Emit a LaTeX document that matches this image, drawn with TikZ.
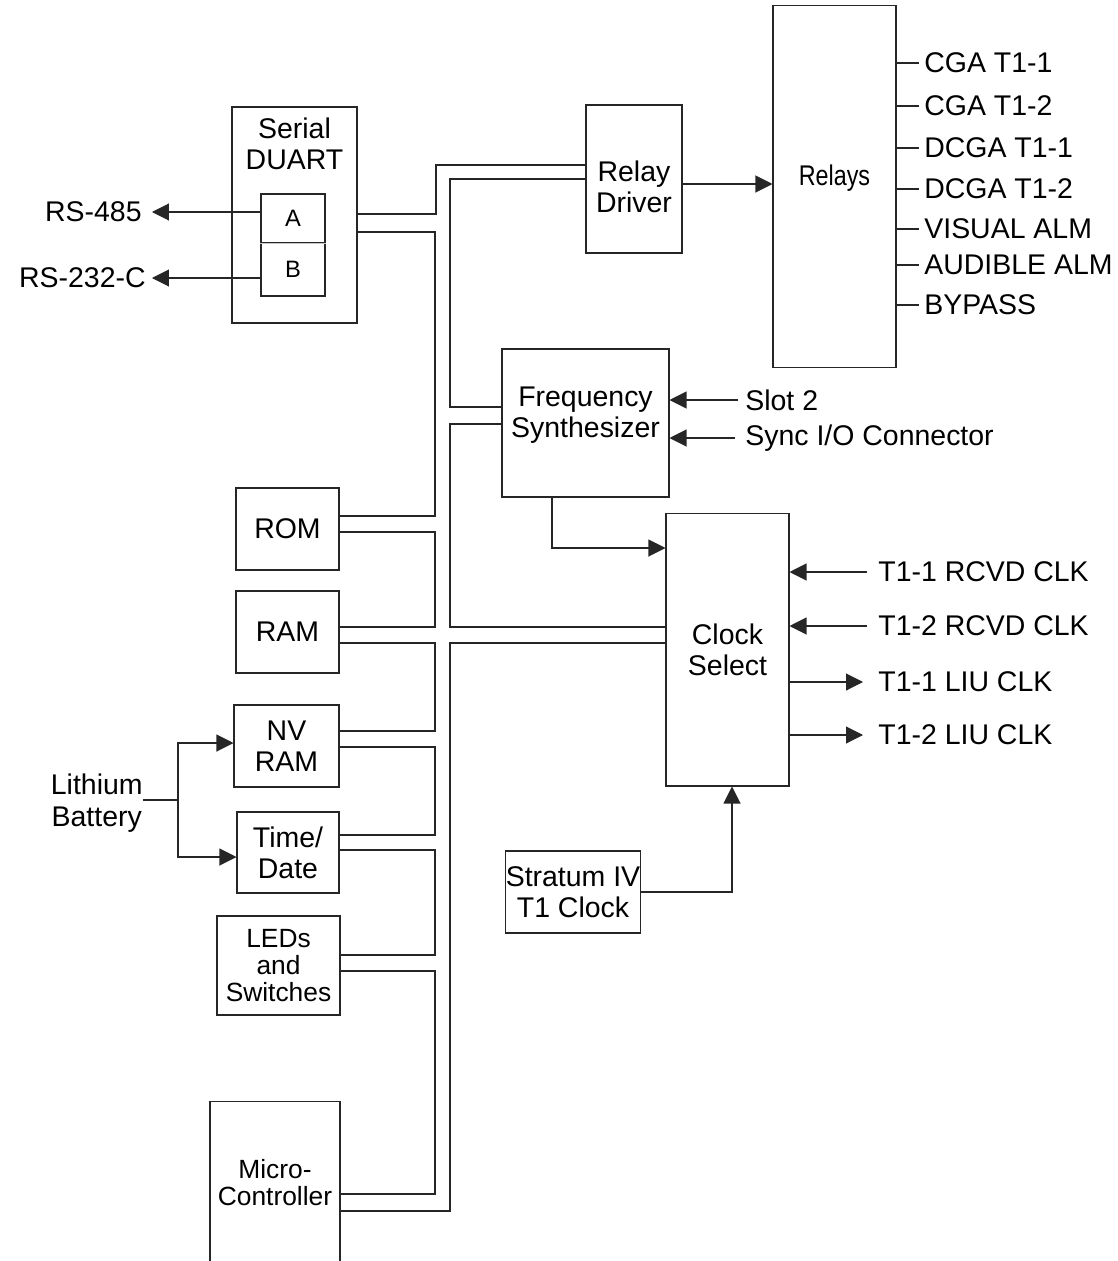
\documentclass[tikz,border=0pt]{standalone}
\usepackage{fontspec}
\setmainfont{Liberation Sans}
\usepackage{graphicx}
\usetikzlibrary{arrows.meta, calc}

\newcommand\txtmain{\fontsize{16.2}{17.8}\selectfont}
\newcommand\txtsmall{\fontsize{15}{15.3}\selectfont}
\newcommand\txtport{\fontsize{13.5}{14}\selectfont}

\begin{document}
\begin{tikzpicture}[
    x=0.02cm, y=-0.02cm,
    box/.style={rectangle, draw=black!85, line width=0.6pt, inner sep=0pt, align=center, font=\txtmain},
    sig/.style={inner sep=0pt, align=center, font=\txtmain},
    wire/.style={draw=black!85, line width=0.6pt},
    arrow/.style={wire, -{Triangle[length=0.34cm, width=0.34cm]}},
]
    \useasboundingbox (0,0) rectangle (1117,1261);

    % blocks
    \node (duart) [box, minimum width=2.5cm, minimum height=4.32cm,
        label={[font=\txtmain, align=center, anchor=north, yshift=-0.1cm]north:{Serial\\DUART}}] at (294.5,215) {};
    \node (portA) [box, font=\txtport, minimum width=1.28cm, minimum height=0.98cm] at (293,218.5) {A};
    \node (portB) [box, font=\txtport, minimum width=1.28cm, minimum height=1.06cm] at (293,269.5) {B};
    \draw [gray!45, line width=0.6pt] (portA.south west) -- (portA.south east);
    \node (relaydrv) [box, minimum width=1.92cm, minimum height=2.96cm,
        label={[font=\txtmain, align=center, yshift=-0.16cm]center:{Relay\\Driver}}] at (634,179) {};
    \node (relays) [box, minimum width=2.46cm, minimum height=7.26cm,
        label={[font=\txtmain, yshift=0.17cm]center:{\scalebox{0.82}[1]{Relays}}}] at (834.5,186.5) {};
    \node (freq) [box, minimum width=3.34cm, minimum height=2.96cm,
        label={[font=\txtmain, align=center, yshift=0.16cm]center:{Frequency\\Synthesizer}}] at (585.5,423) {};
    \node (clksel) [box, minimum width=2.46cm, minimum height=5.46cm] at (727.5,649.5) {Clock\\Select};
    \node (stratum) [box, minimum width=2.68cm, minimum height=1.64cm] at (573,892) {Stratum IV\\T1 Clock};
    \node (rom) [box, minimum width=2.06cm, minimum height=1.64cm] at (287.5,529) {ROM};
    \node (ram) [box, minimum width=2.06cm, minimum height=1.64cm] at (287.5,632) {RAM};
    \node (nvram) [box, minimum width=2.1cm, minimum height=1.64cm] at (286.5,746) {NV\\RAM};
    \node (timedate) [box, minimum width=2.04cm, minimum height=1.62cm] at (288,852.5) {Time/\\Date};
    \node (leds) [box, font=\txtsmall, minimum width=2.46cm, minimum height=1.98cm] at (278.5,965.5) {LEDs\\and\\Switches};
    \node (micro) [box, font=\txtsmall, minimum width=2.6cm, minimum height=3.26cm] at (275,1182.5) {Micro-\\Controller};

    % signal labels
    \node (rs485) [sig, anchor=east] at (142,212) {RS-485};
    \node (rs232) [sig, anchor=east] at (146,278) {RS-232-C};
    \node (lith) [sig, anchor=east] at (143,803) {Lithium\\Battery};
    \node (slot) [sig, anchor=west] at (745,400) {Slot 2};
    \node (sync) [sig, anchor=west] at (745,438) {Sync I/O Connector};
    \node (rcvd1) [sig, anchor=west] at (878,572) {T1-1 RCVD CLK};
    \node (rcvd2) [sig, anchor=west] at (878,626) {T1-2 RCVD CLK};
    \node (liu1) [sig, anchor=west] at (878,682) {T1-1 LIU CLK};
    \node (liu2) [sig, anchor=west] at (878,735) {T1-2 LIU CLK};
    \coordinate (split) at (178,800);

    % relay outputs
    \foreach \y/\txt [count=\i] in {63/CGA T1-1, 106/CGA T1-2, 148/DCGA T1-1, 189/DCGA T1-2, 229/VISUAL ALM, 265/AUDIBLE ALM, 305/BYPASS} {
        \node (out\i) [sig, anchor=west] at (924,\y) {\txt};
        \draw [wire, shorten >=0.1cm] (relays.east |- out\i.west) -- (out\i.west);
    }

    % serial ports
    \draw [arrow, shorten >=0.2cm] (portA.west |- 0,212) -- (rs485.east);
    \draw [arrow, shorten >=0.12cm] (portB.west |- 0,278) -- (rs232.east);

    % address/data bus
    \draw [wire] (duart.east |- 0,214) -| (436,165) -- (relaydrv.west |- 0,165);
    \draw [wire] (duart.east |- 0,232) -| (435,516) -- (rom.east |- 0,516);
    \foreach \a/\b/\c/\d in {rom/532/ram/627, ram/643/nvram/731, nvram/747/timedate/835, timedate/850/leds/955, leds/971/micro/1194}
        \draw [wire] (\a.east |- 0,\b) -| (435,\d) -- (\c.east |- 0,\d);
    \draw [wire] (relaydrv.west |- 0,179) -| (450,407) -- (freq.west |- 0,407);
    \draw [wire] (freq.west |- 0,424) -| (450,627) -- (clksel.west |- 0,627);
    \draw [wire] (clksel.west |- 0,643) -| (450,1211) -- (micro.east |- 0,1211);

    % clocks
    \draw [arrow] (relaydrv.east |- 0,184) -- (relays.west |- 0,184);
    \draw [arrow, shorten <=0.14cm] (slot.west) -- (freq.east |- slot.west);
    \draw [arrow, shorten <=0.2cm] (sync.west) -- (freq.east |- sync.west);
    \draw [arrow] (freq.south -| 552,0) |- (clksel.west |- 0,548);
    \draw [arrow, shorten <=0.22cm] (rcvd1.west) -- (clksel.east |- rcvd1.west);
    \draw [arrow, shorten <=0.22cm] (rcvd2.west) -- (clksel.east |- rcvd2.west);
    \draw [arrow, shorten >=0.3cm] (clksel.east |- liu1.west) -- (liu1.west);
    \draw [arrow, shorten >=0.3cm] (clksel.east |- liu2.west) -- (liu2.west);
    \draw [arrow] (stratum.east) -| (clksel.south -| 732,0);

    % battery
    \draw [wire] (lith.east |- 0,800) -- (split);
    \draw [arrow] (split) |- (nvram.west |- 0,743);
    \draw [arrow] (split) |- (timedate.west |- 0,857);

\end{tikzpicture}
\end{document}
